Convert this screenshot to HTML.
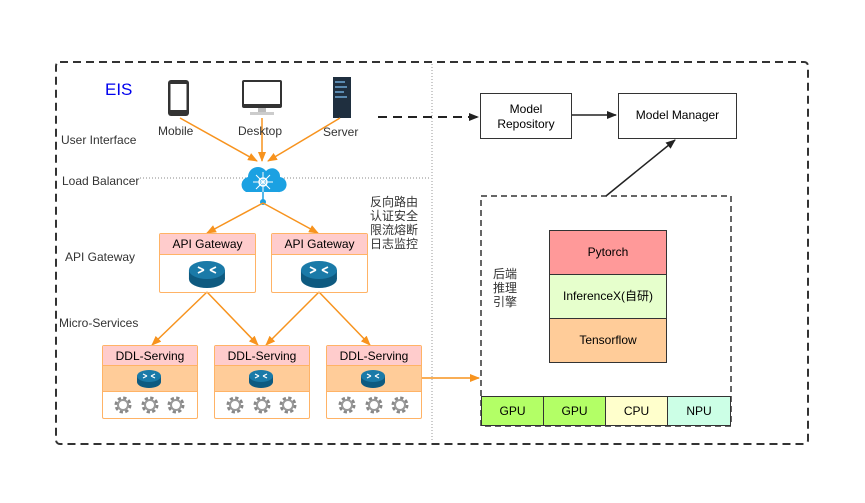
<!DOCTYPE html>
<html><head><meta charset="utf-8"><style>
body{margin:0;background:#fff;font-family:"Liberation Sans","Noto Sans CJK SC",sans-serif;}
.t{position:absolute;font-size:12px;color:#333;white-space:nowrap}
.b{position:absolute;box-sizing:border-box}
</style></head><body>
<div style="position:relative;width:865px;height:503px;overflow:hidden">
<svg width="865" height="503" style="position:absolute;left:0;top:0">
<defs>
<marker id="ao" markerWidth="10" markerHeight="8" refX="9" refY="4" orient="auto" markerUnits="userSpaceOnUse"><path d="M0,0L10,4L0,8z" fill="#f7931e"/></marker>
<marker id="ak" markerWidth="10" markerHeight="8" refX="9" refY="4" orient="auto" markerUnits="userSpaceOnUse"><path d="M0,0L10,4L0,8z" fill="#222"/></marker>
<g id="gear"><circle r="6.5" fill="none" stroke="#888" stroke-width="4" stroke-dasharray="3 2.1"/><circle r="5" fill="none" stroke="#999" stroke-width="2"/></g>
<g id="rt"><ellipse cx="0" cy="4" rx="12" ry="6" fill="#0e5a80"/><rect x="-12" y="-2" width="24" height="6" fill="#0e5a80"/><ellipse cx="0" cy="-2" rx="12" ry="6" fill="#1a7aa8"/><path d="M-6,-4L-2,-2M6,0L2,-2M-6,0L-2,-2M6,-4L2,-2" stroke="#fff" stroke-width="1.2"/></g>
</defs>
<rect x="56" y="62" width="752" height="382" rx="4" fill="none" stroke="#333" stroke-width="2" stroke-dasharray="8 5"/>
<line x1="432" y1="64" x2="432" y2="442" stroke="#999" stroke-dasharray="1 2"/>
<line x1="140" y1="178" x2="430" y2="178" stroke="#888" stroke-dasharray="1 2"/>
<rect x="481" y="196" width="250" height="230" fill="none" stroke="#333" stroke-width="1.5" stroke-dasharray="6 4"/>
<!-- icons -->
<rect x="168" y="80" width="21" height="36" rx="3" fill="#333"/><rect x="170.5" y="84" width="16" height="26" fill="#fff"/>
<rect x="242" y="80" width="40" height="28" rx="2" fill="#333"/><rect x="244" y="82" width="36" height="22" fill="#fff"/><rect x="258" y="108" width="8" height="5" fill="#bbb"/><rect x="250" y="112" width="24" height="3" fill="#ccc"/>
<rect x="333" y="77" width="18" height="41" fill="#1f2f3f"/><g fill="#5a8ab0"><rect x="335" y="81" width="10" height="2"/><rect x="335" y="86" width="12" height="2"/><rect x="335" y="91" width="9" height="2"/><rect x="335" y="96" width="12" height="2"/></g>
<!-- cloud -->
<path d="M246,192 a8,8 0 0 1 2,-15 a10,10 0 0 1 18,-6 a8,8 0 0 1 14,6 a7,7 0 0 1 -2,15z" fill="#1ba1e2"/>
<circle cx="263" cy="182" r="4" fill="none" stroke="#fff" stroke-width="1.5"/>
<path d="M263,172v20M253,182h20M256,175l14,14M270,175l-14,14" stroke="#fff" stroke-width="1"/>
<line x1="263" y1="192" x2="263" y2="201" stroke="#1ba1e2" stroke-width="1.5"/><circle cx="263" cy="202" r="3" fill="#1ba1e2"/>
<g stroke="#f7931e" stroke-width="1.5" fill="none" marker-end="url(#ao)">
<line x1="180" y1="118" x2="257" y2="161"/><line x1="262" y1="118" x2="262" y2="161"/><line x1="340" y1="118" x2="268" y2="161"/>
<line x1="263" y1="203" x2="207" y2="233"/><line x1="263" y1="203" x2="318" y2="233"/>
<line x1="207" y1="292" x2="152" y2="345"/><line x1="207" y1="292" x2="258" y2="345"/>
<line x1="319" y1="292" x2="266" y2="345"/><line x1="319" y1="292" x2="370" y2="345"/>
<line x1="422" y1="378" x2="479" y2="378"/>
</g>
<line x1="378" y1="117" x2="478" y2="117" stroke="#222" stroke-width="2" stroke-dasharray="9 6" marker-end="url(#ak)"/>
<line x1="571" y1="115" x2="616" y2="115" stroke="#222" stroke-width="1.5" marker-end="url(#ak)"/>
<line x1="606" y1="196" x2="675" y2="140" stroke="#222" stroke-width="1.5" marker-end="url(#ak)"/>
</svg>
<div class="t" style="left:105px;top:80px;font-size:17px;color:#0000ee">EIS</div>
<div class="t" style="left:158px;top:124px">Mobile</div>
<div class="t" style="left:238px;top:124px">Desktop</div>
<div class="t" style="left:323px;top:125px">Server</div>
<div class="t" style="left:61px;top:133px">User Interface</div>
<div class="t" style="left:62px;top:174px">Load Balancer</div>
<div class="t" style="left:65px;top:250px">API Gateway</div>
<div class="t" style="left:59px;top:316px">Micro-Services</div>
<div class="t" style="left:370px;top:195px;line-height:14px">反向路由<br>认证安全<br>限流熔断<br>日志监控</div>
<div class="b" style="left:480px;top:93px;width:92px;height:46px;border:1.5px solid #333;font-size:12px;text-align:center;padding-top:8px;line-height:15px">Model<br>Repository</div>
<div class="b" style="left:618px;top:93px;width:119px;height:46px;border:1.5px solid #333;font-size:12px;text-align:center;line-height:43px">Model Manager</div>
<div class="t" style="left:493px;top:267px;line-height:14px">后端<br>推理<br>引擎</div>
<div class="b" style="left:549px;top:230px;width:118px;height:45px;background:#ff9999;border:1px solid #333;text-align:center;line-height:43px;font-size:12px">Pytorch</div>
<div class="b" style="left:549px;top:274px;width:118px;height:45px;background:#e6ffcc;border:1px solid #333;text-align:center;line-height:43px;font-size:12px">InferenceX(自研)</div>
<div class="b" style="left:549px;top:318px;width:118px;height:45px;background:#ffcc99;border:1px solid #333;text-align:center;line-height:43px;font-size:12px">Tensorflow</div>
<div class="b" style="left:481px;top:396px;width:63px;height:30px;background:#b3ff66;border:1px solid #333;text-align:center;line-height:28px;font-size:12px">GPU</div>
<div class="b" style="left:543px;top:396px;width:63px;height:30px;background:#b3ff66;border:1px solid #333;text-align:center;line-height:28px;font-size:12px">GPU</div>
<div class="b" style="left:605px;top:396px;width:63px;height:30px;background:#ffffcc;border:1px solid #333;text-align:center;line-height:28px;font-size:12px">CPU</div>
<div class="b" style="left:667px;top:396px;width:64px;height:30px;background:#ccffe6;border:1px solid #333;text-align:center;line-height:28px;font-size:12px">NPU</div>

<div class="b" style="left:159px;top:233px;width:97px;height:60px;border:1.5px solid #ffb366;border-radius:2px"><div style="background:#ffcccc;height:20px;border-bottom:1.5px solid #ffb366;text-align:center;line-height:20px;font-size:12px">API Gateway</div><svg width="94" height="37"><use href="#rt" x="47" y="18" transform="scale(1.5) translate(-15.7,-6)"/></svg></div>
<div class="b" style="left:271px;top:233px;width:97px;height:60px;border:1.5px solid #ffb366;border-radius:2px"><div style="background:#ffcccc;height:20px;border-bottom:1.5px solid #ffb366;text-align:center;line-height:20px;font-size:12px">API Gateway</div><svg width="94" height="37"><use href="#rt" x="47" y="18" transform="scale(1.5) translate(-15.7,-6)"/></svg></div>

<div class="b" style="left:102px;top:345px;width:96px;height:74px;border:1.5px solid #ffb366;border-radius:2px"><div style="background:#ffcccc;height:19px;text-align:center;line-height:20px;font-size:12px">DDL-Serving</div><div style="background:#ffcc99;height:25px;border-top:1.5px solid #ffb366;border-bottom:1.5px solid #ffb366"><svg width="93" height="25"><use href="#rt" x="46" y="12"/></svg></div><svg width="93" height="26"><use href="#gear" x="20" y="13"/><use href="#gear" x="47" y="13"/><use href="#gear" x="73" y="13"/></svg></div>
<div class="b" style="left:214px;top:345px;width:96px;height:74px;border:1.5px solid #ffb366;border-radius:2px"><div style="background:#ffcccc;height:19px;text-align:center;line-height:20px;font-size:12px">DDL-Serving</div><div style="background:#ffcc99;height:25px;border-top:1.5px solid #ffb366;border-bottom:1.5px solid #ffb366"><svg width="93" height="25"><use href="#rt" x="46" y="12"/></svg></div><svg width="93" height="26"><use href="#gear" x="20" y="13"/><use href="#gear" x="47" y="13"/><use href="#gear" x="73" y="13"/></svg></div>
<div class="b" style="left:326px;top:345px;width:96px;height:74px;border:1.5px solid #ffb366;border-radius:2px"><div style="background:#ffcccc;height:19px;text-align:center;line-height:20px;font-size:12px">DDL-Serving</div><div style="background:#ffcc99;height:25px;border-top:1.5px solid #ffb366;border-bottom:1.5px solid #ffb366"><svg width="93" height="25"><use href="#rt" x="46" y="12"/></svg></div><svg width="93" height="26"><use href="#gear" x="20" y="13"/><use href="#gear" x="47" y="13"/><use href="#gear" x="73" y="13"/></svg></div>
</div>
</body></html>
